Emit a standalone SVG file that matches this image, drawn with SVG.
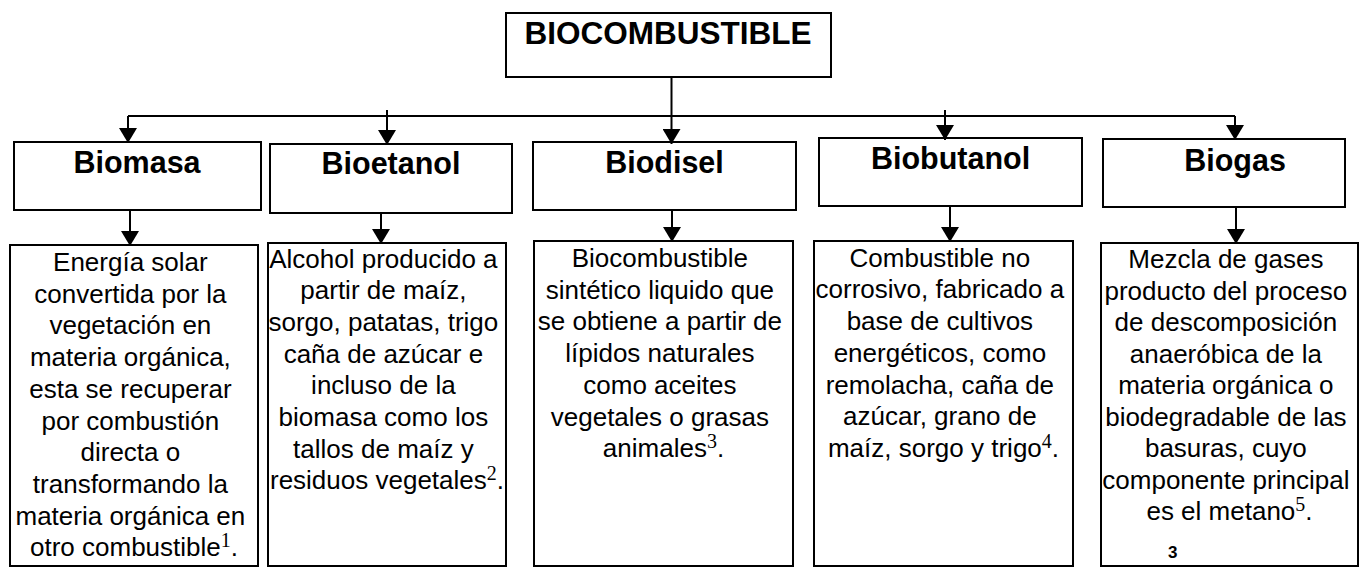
<svg xmlns="http://www.w3.org/2000/svg" width="1360" height="568" viewBox="0 0 1360 568">
<style>
.box{fill:#fff;stroke:#000;stroke-width:2}
.title{font-family:"Liberation Sans",Arial,sans-serif;font-weight:bold;font-size:31.5px;text-anchor:middle;fill:#000}
.head{font-family:"Liberation Sans",Arial,sans-serif;font-weight:bold;font-size:30.5px;text-anchor:middle;fill:#000}
.body{font-family:"Liberation Sans",Arial,sans-serif;font-size:26px;text-anchor:middle;fill:#000}
.sup{font-family:"Liberation Serif","Times New Roman",serif;font-size:20px}
.conn{stroke:#000;stroke-width:2;fill:none}
.pn{font-family:"Liberation Sans",Arial,sans-serif;font-weight:bold;font-size:17px;fill:#000}
</style>
<defs>
<marker id="ah" markerUnits="userSpaceOnUse" markerWidth="16" markerHeight="18" refX="15" refY="9" orient="auto">
<path d="M0,0 L15,9 L0,18 z" fill="#000"/>
</marker>
</defs>
<rect width="1360" height="568" fill="#fff"/>

<g id="biocombustible">
<rect class="box" x="506" y="13" width="325" height="64"/>
<text class="title" x="668" y="44">BIOCOMBUSTIBLE</text>
</g>

<g id="biomasa">
<rect class="box" x="14" y="142" width="247" height="68"/>
<text class="head" x="137" y="173">Biomasa</text>
</g>
<g id="bioetanol">
<rect class="box" x="270" y="144" width="242" height="69"/>
<text class="head" x="391" y="174">Bioetanol</text>
</g>
<g id="biodisel">
<rect class="box" x="533" y="142" width="263" height="68"/>
<text class="head" x="664.5" y="173">Biodisel</text>
</g>
<g id="biobutanol">
<rect class="box" x="819" y="138" width="263" height="68"/>
<text class="head" x="950.5" y="169">Biobutanol</text>
</g>
<g id="biogas">
<rect class="box" x="1103" y="139" width="242" height="68"/>
<text class="head" x="1235" y="170.5">Biogas</text>
</g>

<g id="biomasa-desc">
<rect class="box" x="10" y="245" width="248" height="321"/>
<text class="body" y="271">
<tspan x="134" dy="0">Energía solar</tspan>
<tspan x="134" dy="31.7">convertida por la</tspan>
<tspan x="134" dy="31.7">vegetación en</tspan>
<tspan x="134" dy="31.7">materia orgánica,</tspan>
<tspan x="134" dy="31.7">esta se recuperar</tspan>
<tspan x="134" dy="31.7">por combustión</tspan>
<tspan x="134" dy="31.7">directa o</tspan>
<tspan x="134" dy="31.7">transformando la</tspan>
<tspan x="134" dy="31.7">materia orgánica en</tspan>
<tspan x="134" dy="31.7">otro combustible<tspan class="sup" dy="-9">1</tspan><tspan dy="9">.</tspan></tspan>
</text>
</g>

<g id="bioetanol-desc">
<rect class="box" x="268" y="243" width="238" height="323"/>
<text class="body" y="267.5">
<tspan x="387" dy="0">Alcohol producido a</tspan>
<tspan x="387" dy="31.7">partir de maíz,</tspan>
<tspan x="387" dy="31.7">sorgo, patatas, trigo</tspan>
<tspan x="387" dy="31.7">caña de azúcar e</tspan>
<tspan x="387" dy="31.7">incluso de la</tspan>
<tspan x="387" dy="31.7">biomasa como los</tspan>
<tspan x="387" dy="31.7">tallos de maíz y</tspan>
<tspan x="387" dy="31.7">residuos vegetales<tspan class="sup" dy="-9">2</tspan><tspan dy="9">.</tspan></tspan>
</text>
</g>

<g id="biodisel-desc">
<rect class="box" x="534" y="241" width="259" height="325"/>
<text class="body" y="267">
<tspan x="663.5" dy="0">Biocombustible</tspan>
<tspan x="663.5" dy="31.7">sintético liquido que</tspan>
<tspan x="663.5" dy="31.7">se obtiene a partir de</tspan>
<tspan x="663.5" dy="31.7">lípidos naturales</tspan>
<tspan x="663.5" dy="31.7">como aceites</tspan>
<tspan x="663.5" dy="31.7">vegetales o grasas</tspan>
<tspan x="663.5" dy="31.7">animales<tspan class="sup" dy="-9">3</tspan><tspan dy="9">.</tspan></tspan>
</text>
</g>

<g id="biobutanol-desc">
<rect class="box" x="814" y="241" width="259" height="325"/>
<text class="body" y="266.7">
<tspan x="943.5" dy="0">Combustible no</tspan>
<tspan x="943.5" dy="31.7">corrosivo, fabricado a</tspan>
<tspan x="943.5" dy="31.7">base de cultivos</tspan>
<tspan x="943.5" dy="31.7">energéticos, como</tspan>
<tspan x="943.5" dy="31.7">remolacha, caña de</tspan>
<tspan x="943.5" dy="31.7">azúcar, grano de</tspan>
<tspan x="943.5" dy="31.7">maíz, sorgo y trigo<tspan class="sup" dy="-9">4</tspan><tspan dy="9">.</tspan></tspan>
</text>
</g>

<g id="biogas-desc">
<rect class="box" x="1101" y="243" width="257" height="323"/>
<text class="body" y="268">
<tspan x="1229.5" dy="0">Mezcla de gases</tspan>
<tspan x="1229.5" dy="31.5">producto del proceso</tspan>
<tspan x="1229.5" dy="31.5">de descomposición</tspan>
<tspan x="1229.5" dy="31.5">anaeróbica de la</tspan>
<tspan x="1229.5" dy="31.5">materia orgánica o</tspan>
<tspan x="1229.5" dy="31.5">biodegradable de las</tspan>
<tspan x="1229.5" dy="31.5">basuras, cuyo</tspan>
<tspan x="1229.5" dy="31.5">componente principal</tspan>
<tspan x="1229.5" dy="31.5">es el metano<tspan class="sup" dy="-9">5</tspan><tspan dy="9">.</tspan></tspan>
</text>
<text class="pn" x="1168" y="558">3</text>
</g>

<g id="connectors">
<line class="conn" x1="671.5" y1="77" x2="671.5" y2="144" marker-end="url(#ah)"/>
<line class="conn" x1="128" y1="116" x2="1235" y2="116"/>
<line class="conn" x1="128" y1="116" x2="128" y2="143" marker-end="url(#ah)"/>
<line class="conn" x1="387" y1="110" x2="387" y2="145" marker-end="url(#ah)"/>
<line class="conn" x1="945" y1="110" x2="945" y2="140" marker-end="url(#ah)"/>
<line class="conn" x1="1235" y1="116" x2="1235" y2="140" marker-end="url(#ah)"/>
<line class="conn" x1="130" y1="210" x2="130" y2="246" marker-end="url(#ah)"/>
<line class="conn" x1="381" y1="213" x2="381" y2="244" marker-end="url(#ah)"/>
<line class="conn" x1="672" y1="210" x2="672" y2="242" marker-end="url(#ah)"/>
<line class="conn" x1="950" y1="206" x2="950" y2="242" marker-end="url(#ah)"/>
<line class="conn" x1="1236" y1="207" x2="1236" y2="244" marker-end="url(#ah)"/>
</g>
</svg>
